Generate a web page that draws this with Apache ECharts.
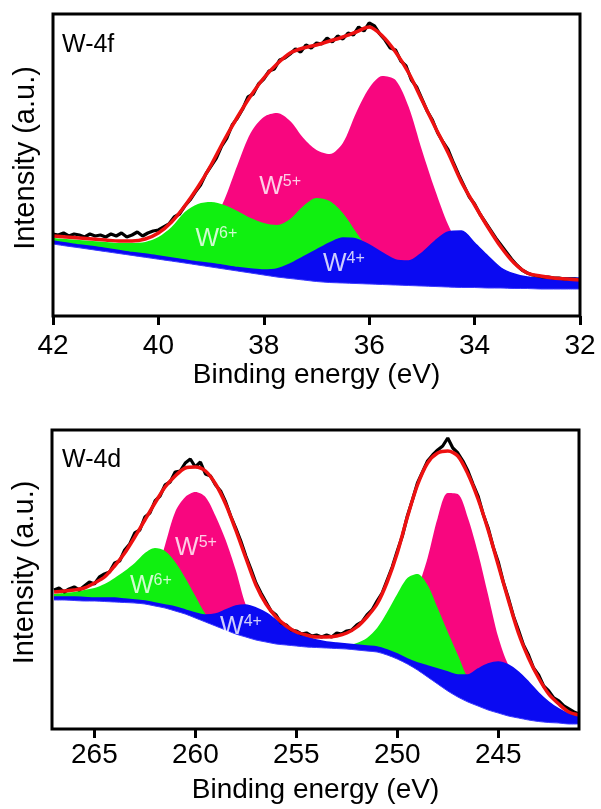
<!DOCTYPE html>
<html>
<head>
<meta charset="utf-8">
<script src="https://cdn.jsdelivr.net/npm/echarts@6/dist/echarts.min.js"></script>
<style>
  html, body { margin: 0; padding: 0; background: #fff; }
  #chart { width: 601px; height: 809px; }
</style>
</head>
<body>
<div id="chart"></div>
<script>
// ---- W-4f panel (binding energy 42 -> 32 eV) ----
const F4_FIT_START = 42;
const F4_FIT_STEP = 0.25;
const F4_DATA_START = 42;
const F4_DATA_STEP = 0.1;
const f4Ticks = [42, 40, 38, 36, 34, 32];

// measured spectrum, 0.1 eV steps
const f4Data = [
  82, 81, 83, 80, 82, 81, 79, 82, 80, 81,
  79, 82, 80, 83, 79, 81, 84, 80, 83, 85,
  86, 89, 92, 99, 102, 110, 116, 124, 131, 142,
  150, 158, 170, 178, 191, 198, 207, 219, 222, 232,
  237, 245, 247, 256, 258, 262, 267, 264, 271, 268,
  273, 272, 278, 274, 280, 277, 283, 281, 289, 285,
  293, 290, 282, 276, 268, 266, 255, 250, 236, 229,
  217, 205, 196, 183, 174, 166, 153, 141, 130, 119,
  112, 102, 94, 86, 78, 71, 64, 57, 51, 46,
  43, 41, 40, 39, 39, 38, 38, 37, 37, 37,
  36
];
// fitted curves, 0.25 eV steps
const f4Fit = [80, 79, 78, 77, 76, 75, 75, 77, 83, 94, 110, 129, 151, 176, 199, 220, 238, 252, 263, 268, 271,
  275, 279, 284, 289, 280, 264, 243, 216, 189, 163, 134, 111, 89, 69, 53, 43, 40, 38, 37, 36];
const f4W5 = [70, 69, 68, 67, 66, 65, 64, 63, 62, 63, 66, 74, 90, 116, 151, 183, 199, 203, 195, 178, 166,
  162, 173, 203, 228, 240, 236, 209, 166, 126, 91, 66, 48, 38, 33, 31, 30, 29, 28, 28, 28];
const f4W6 = [78, 77, 76, 75, 74, 73, 73, 74, 79, 89, 104, 112, 114, 111, 105, 98, 93, 91, 97, 110, 118,
  115, 103, 84, 66, 54, 46, 40, 36, 33, 31, 30, 29, 29, 28, 28, 28, 28, 28, 28, 28];
const f4W4 = [75, 73, 71, 69.5, 67.5, 65.5, 63.5, 62, 60, 58, 56, 54, 52.5, 50.5, 48.5, 47, 46, 47, 52, 59, 66,
  73, 78, 77, 71, 63, 56, 55, 63, 75, 84, 85, 73, 60, 48, 42, 39, 38, 38, 38, 38];
const f4Base = [72, 70, 68.2, 66.3, 64.4, 62.5, 60.6, 58.7, 56.8, 54.9, 53, 51, 49, 47, 45, 43, 41, 39, 37.5, 36, 34.5,
  33.5, 33, 32.5, 32, 31.5, 31, 30.5, 30, 29.5, 29, 28.5, 28.5, 28, 28, 27.5, 27.5, 27, 27, 27, 27];
const f4Labels = [['W', '5+', 37.69, 129], ['W', '6+', 38.9, 77], ['W', '4+', 36.48, 52]];

// ---- W-4d panel (binding energy 267 -> 241 eV) ----
const D4_FIT_START = 267;
const D4_FIT_STEP = 0.5;
const D4_DATA_START = 267;
const D4_DATA_STEP = 0.25;
const d4Ticks = [265, 260, 255, 250, 245];

const d4Data = [
  139, 141, 137, 140, 142, 139, 143, 147, 145, 152,
  155, 157, 166, 168, 179, 185, 196, 199, 212, 216,
  228, 233, 244, 247, 257, 258, 266, 270, 262, 267,
  255, 253, 244, 238, 227, 213, 201, 188, 173, 160,
  146, 136, 127, 118, 114, 106, 104, 99, 98, 95,
  96, 93, 94, 92, 94, 92, 96, 95, 98, 99,
  104, 107, 114, 119, 128, 136, 149, 162, 178, 193,
  213, 229, 246, 257, 268, 274, 279, 283, 291, 281,
  276, 268, 258, 245, 233, 215, 201, 182, 167, 147,
  131, 113, 99, 84, 74, 61, 54, 43, 38, 31,
  28, 23, 20, 17, 15
];
const d4Fit = [137, 138, 139, 141, 146, 152, 163, 176, 192, 209, 226, 242, 253, 261, 262, 258, 245, 225, 199, 171,
  144, 125, 112, 103, 97, 94, 92, 92, 93, 96, 102, 112, 125, 147, 176, 212, 244, 266, 276, 278,
  273, 255, 230, 199, 164, 129, 96, 71, 51, 35, 25, 17, 14];
const d4W5 = [120, 120, 120, 120, 120, 120, 120, 120, 120, 130, 150, 184, 217, 232, 237, 232, 213, 189, 159, 124,
  105, 95, 90, 85, 82, 80, 80, 80, 80, 80, 80, 80, 80, 80, 100, 120, 140, 171, 211, 236,
  235, 211, 176, 134, 92, 64, 50, 40, 30, 20, 10, 5, 5];
const d4W6 = [135, 136, 137, 139, 141, 145, 151, 158, 166, 176, 181, 178, 167, 151, 133, 115, 104, 100, 98, 95,
  92, 90, 88, 86, 85, 84, 84, 84, 84, 84, 86, 91, 101, 117, 135, 151, 155, 144, 121, 97,
  74, 51, 40, 32, 26, 20, 15, 12, 10, 8, 7, 6, 6];
const d4W4 = [132, 132, 132, 131.5, 131, 131, 131, 130, 129, 128, 126, 124, 122, 119, 116, 114, 115, 119, 123, 124,
  121, 116, 109, 102, 96, 92, 89, 87, 86, 85, 84, 83, 82, 79, 75, 70, 66, 63, 60, 57,
  54, 54, 60, 65, 67, 64, 57, 47, 36, 27, 20, 15, 12];
const d4Base = [129, 129, 128.5, 128, 128, 127.5, 127, 126.5, 126, 125, 123, 121, 118, 115, 111, 107, 103, 99, 95, 92,
  89, 87, 85, 84, 83, 82, 81.5, 81, 80.5, 80, 79, 78, 77, 74, 70, 65, 59, 52, 45, 38,
  32, 27, 23, 19, 16, 13, 11, 9, 7.5, 6.5, 6, 5, 5];
const d4Labels = [['W', '5+', 259.97, 181], ['W', '6+', 262.2, 143], ['W', '4+', 257.74, 102]];

const FONT = "'Liberation Sans', Arial, Helvetica, sans-serif";
const PINK = '#f8067f';
const GREEN = '#10f010';
const BLUE = '#0a0af2';
const RED = '#ee1111';

const toPairs = (start, step, values) => values.map((v, i) => [+(start - i * step).toFixed(2), v]);

// filled component; the edge line is kept invisible so hidden parts do not show through
const areaSeries = (idx, data, fill, edge, edgeWidth) => ({
  type: 'line',
  xAxisIndex: idx,
  yAxisIndex: idx,
  data,
  smooth: 0.3,
  showSymbol: false,
  silent: true,
  lineStyle: { color: edge, width: edgeWidth, opacity: edgeWidth ? 1 : 0 },
  areaStyle: { color: fill, opacity: 1 }
});

const lineSeries = (idx, data, color, width, smooth) => ({
  type: 'line',
  xAxisIndex: idx,
  yAxisIndex: idx,
  data,
  smooth,
  showSymbol: false,
  silent: true,
  lineStyle: { color, width }
});

const labelSeries = (idx, labels) => ({
  type: 'scatter',
  xAxisIndex: idx,
  yAxisIndex: idx,
  symbolSize: 0,
  silent: true,
  data: labels.map((l) => [l[2], l[3], l[0], l[1]]),
  label: {
    show: true,
    position: 'inside',
    formatter: (p) => `{w|${p.data[2]}}{s|${p.data[3]}}`,
    rich: {
      w: { fontSize: 25, color: '#fff', fontFamily: FONT, lineHeight: 26 },
      s: { fontSize: 16, color: '#fff', fontFamily: FONT, lineHeight: 16, verticalAlign: 'top' }
    }
  },
  z: 5
});

const panelSeries = (idx, fitStart, fitStep, fit, w5, w6, w4, base, dataStart, dataStep, data, labels) => [
  areaSeries(idx, toPairs(fitStart, fitStep, w5), PINK, PINK, 0),
  areaSeries(idx, toPairs(fitStart, fitStep, w6), GREEN, GREEN, 0),
  areaSeries(idx, toPairs(fitStart, fitStep, w4), BLUE, BLUE, 1.5),
  areaSeries(idx, toPairs(fitStart, fitStep, base), '#ffffff', '#3a3aff', 1),
  lineSeries(idx, toPairs(dataStart, dataStep, data), '#000', 3.2, false),
  lineSeries(idx, toPairs(fitStart, fitStep, fit), RED, 3.5, 0.3),
  labelSeries(idx, labels)
];

const xAxisBase = (idx, min, max, ticks, margin, nameGap) => ({
  gridIndex: idx,
  type: 'value',
  min,
  max,
  inverse: true,
  axisLine: { show: false },
  axisTick: { show: true, inside: false, length: 9, customValues: ticks, lineStyle: { color: '#000', width: 3 } },
  axisLabel: { fontSize: 28, color: '#000', fontFamily: FONT, margin, customValues: ticks },
  splitLine: { show: false },
  name: 'Binding energy (eV)',
  nameLocation: 'middle',
  nameGap,
  nameTextStyle: { fontSize: 28, color: '#000', fontFamily: FONT, lineHeight: 28 }
});

const yAxisBase = (idx, max, nameGap) => ({
  gridIndex: idx,
  type: 'value',
  min: 0,
  max,
  axisLine: { show: false },
  axisTick: { show: false },
  axisLabel: { show: false },
  splitLine: { show: false },
  name: 'Intensity (a.u.)',
  nameLocation: 'middle',
  nameGap,
  nameTextStyle: { fontSize: 29, color: '#000', fontFamily: FONT, lineHeight: 30, padding: [0, 0, 0, 14] }
});

const chart = echarts.init(document.getElementById('chart'), null, { renderer: 'canvas' });

const option = {
  animation: false,
  backgroundColor: '#ffffff',
  title: [
    { text: 'W-4f', left: 62, top: 33, padding: 0, textStyle: { fontSize: 25, fontWeight: 'normal', color: '#000', fontFamily: FONT } },
    { text: 'W-4d', left: 62, top: 448, padding: 0, textStyle: { fontSize: 25, fontWeight: 'normal', color: '#000', fontFamily: FONT } }
  ],
  grid: [
    { left: 53, top: 14, width: 527, height: 302, show: true, borderColor: '#000', borderWidth: 3, backgroundColor: 'transparent', z: 10 },
    { left: 52, top: 430, width: 527, height: 299, show: true, borderColor: '#000', borderWidth: 3, backgroundColor: 'transparent', z: 10 }
  ],
  xAxis: [
    xAxisBase(0, 32, 42, f4Ticks, 16, 40),
    xAxisBase(1, 241, 267.1, d4Ticks, 12, 47)
  ],
  yAxis: [
    yAxisBase(0, 302, 12),
    yAxisBase(1, 299, 12)
  ],
  series: [
    ...panelSeries(0, F4_FIT_START, F4_FIT_STEP, f4Fit, f4W5, f4W6, f4W4, f4Base, F4_DATA_START, F4_DATA_STEP, f4Data, f4Labels),
    ...panelSeries(1, D4_FIT_START, D4_FIT_STEP, d4Fit, d4W5, d4W6, d4W4, d4Base, D4_DATA_START, D4_DATA_STEP, d4Data, d4Labels)
  ]
};

chart.setOption(option);
</script>
</body>
</html>
